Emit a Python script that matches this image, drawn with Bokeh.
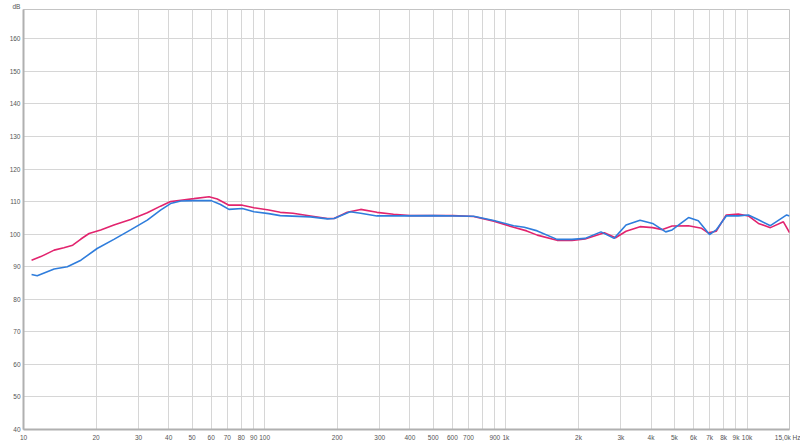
from bokeh.plotting import figure
from bokeh.models import Range1d, FixedTicker, Title
from bokeh.embed import file_html
from bokeh.resources import INLINE

# ---- data ----
red_freq = [10.8, 11.8, 13.4, 14.7, 16.0, 17.3, 18.7, 20.9, 23.7, 27.8, 32.6, 37.0, 40.7, 44.9,
            50.9, 58.8, 63.6, 71.1, 80.8, 90.3, 104, 116, 131, 155, 182, 194, 220, 250, 292, 342,
            400, 500, 605, 735, 891, 1077, 1220, 1350, 1630, 1880, 2130, 2560, 2850, 3150, 3600,
            4060, 4460, 4890, 5720, 6480, 6900, 7450, 8200, 9200, 10130, 11150, 12500, 14150, 15000]
red_db = [92.0, 93.1, 95.1, 95.8, 96.6, 98.5, 100.2, 101.3, 102.8, 104.5, 106.6, 108.6, 110.0, 110.4,
          110.9, 111.5, 110.8, 108.9, 108.9, 108.1, 107.4, 106.7, 106.4, 105.6, 104.8, 104.8, 106.7, 107.6, 106.7, 106.1,
          105.7, 105.7, 105.7, 105.4, 104.0, 102.1, 101.0, 99.7, 98.1, 98.1, 98.5, 100.4, 98.9, 100.9, 102.3,
          102.0, 101.4, 102.5, 102.6, 101.8, 100.4, 100.9, 105.9, 106.2, 105.6, 103.3, 102.0, 103.8, 100.5]

blue_freq = [10.8, 11.4, 13.4, 15.2, 17.3, 20.2, 23.7, 27.8, 32.6, 37.0, 40.7, 44.9, 50.9, 60.0,
             65.6, 71.1, 80.8, 90.3, 104, 116, 155, 182, 194, 226, 250, 292, 342, 500, 735, 891,
             1077, 1192, 1350, 1630, 1880, 2130, 2480, 2810, 3150, 3600, 4060, 4600, 4890, 5720,
             6280, 6990, 7450, 8200, 9200, 10130, 11150, 12500, 14600, 15000]
blue_db = [87.6, 87.2, 89.3, 90.0, 92.0, 95.6, 98.4, 101.3, 104.3, 107.4, 109.4, 110.2, 110.3, 110.3,
           109.1, 107.6, 107.9, 106.9, 106.3, 105.7, 105.3, 104.7, 104.8, 106.9, 106.4, 105.6, 105.6, 105.7, 105.5, 104.2,
           102.6, 102.1, 101.0, 98.4, 98.4, 98.7, 100.7, 98.7, 102.8, 104.3, 103.3, 100.7, 101.3, 105.1,
           104.1, 99.9, 101.3, 105.6, 105.6, 105.9, 104.4, 102.6, 105.9, 105.6]

x_ticks = [10, 20, 30, 40, 50, 60, 70, 80, 90, 100, 200, 300, 400, 500, 600, 700, 900, 1000,
           2000, 3000, 4000, 5000, 6000, 7000, 8000, 9000, 10000, 15000]
x_tick_labels = ["10", "20", "30", "40", "50", "60", "70", "80", "90", "100", "200", "300", "400",
                 "500", "600", "700", "900", "1k", "2k", "3k", "4k", "5k", "6k", "7k", "8k", "9k", "10k",
                 "15,0k Hz"]
x_grid = [10, 20, 30, 40, 50, 60, 70, 80, 90, 100, 200, 300, 400, 500, 600, 700, 800, 900, 1000,
          2000, 3000, 4000, 5000, 6000, 7000, 8000, 9000, 10000]
y_ticks = [40, 50, 60, 70, 80, 90, 100, 110, 120, 130, 140, 150, 160]

FONT = "Liberation Sans"
TXT = "#555555"

p = figure(width=800, height=443, x_axis_type="log",
           x_range=Range1d(10, 15000), y_range=Range1d(40, 169),
           output_backend="svg", toolbar_location=None,
           min_border_left=23, min_border_right=11, min_border_top=0, min_border_bottom=14)
p.background_fill_color = "white"
p.border_fill_color = "white"
p.outline_line_color = "#c4c4c4"
p.outline_line_width = 1

p.add_layout(Title(text="dB", align="left", offset=-11, standoff=0,
                   text_font=FONT, text_font_size="6.5px", text_font_style="normal",
                   text_color=TXT), "above")

p.xaxis.ticker = FixedTicker(ticks=x_ticks)
p.xaxis.major_label_overrides = {t: l for t, l in zip(x_ticks, x_tick_labels)}
p.xgrid.ticker = FixedTicker(ticks=x_grid)
p.yaxis.ticker = FixedTicker(ticks=y_ticks)

for ax in (p.xaxis, p.yaxis):
    ax.major_tick_in = 0
    ax.major_tick_out = 0
    ax.minor_tick_in = 0
    ax.minor_tick_out = 0
    ax.major_tick_line_color = None
    ax.minor_tick_line_color = None
    ax.axis_line_color = "#b0b0b0"
    ax.axis_line_width = 2
    ax.axis_label_standoff = 0
    ax.major_label_text_font = FONT
    ax.major_label_text_font_size = "6.5px"
    ax.major_label_text_color = TXT
p.xaxis.major_label_standoff = 4
p.yaxis.major_label_standoff = 3

for g in (p.xgrid, p.ygrid):
    g.grid_line_color = "#d6d6d6"
    g.grid_line_width = 1

p.line(red_freq, red_db, line_color="#e2246e", line_width=1.6)
p.line(blue_freq, blue_db, line_color="#2f7ddc", line_width=1.6)

open("out.html", "w").write(file_html(p, INLINE))
